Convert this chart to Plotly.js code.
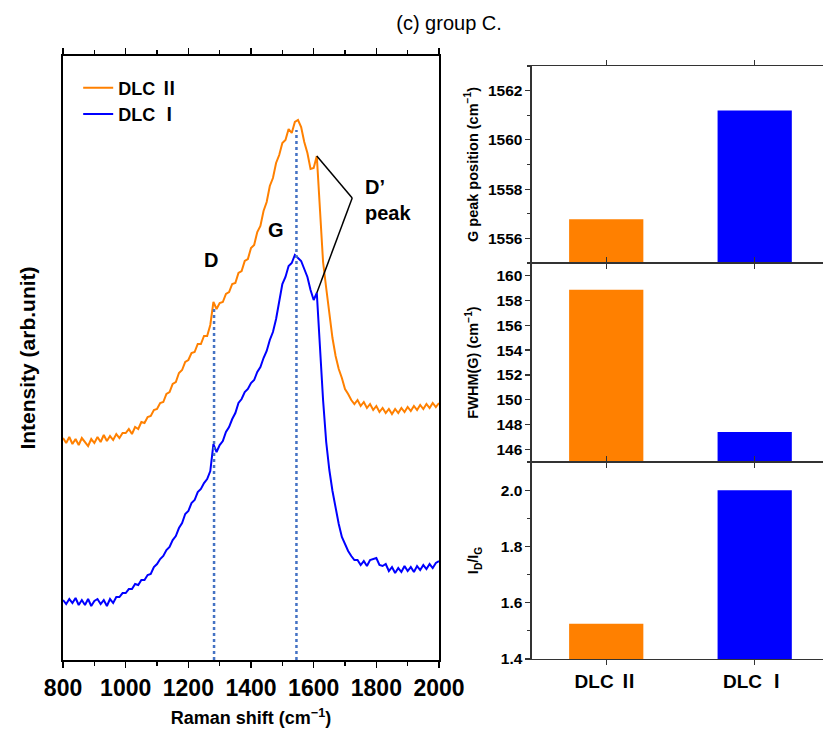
<!DOCTYPE html>
<html><head><meta charset="utf-8">
<script src="https://cdn.plot.ly/plotly-3.0.1.min.js"></script>
<style>html,body{margin:0;padding:0;background:#fff}#chart{width:823px;height:731px}</style>
</head><body><div id="chart"></div>
<script>
// Raman shift (cm^-1)
const ramanShift = [800,810,820,830,840,850,860,870,880,890,900,910,920,930,940,950,960,970,980,990,
1000,1010,1020,1030,1040,1050,1060,1070,1080,1090,1100,1110,1120,1130,1140,1150,1160,1170,1180,1190,
1200,1210,1220,1230,1240,1250,1260,1270,1280,1290,1300,1310,1320,1330,1340,1350,1360,1370,1380,1390,
1400,1410,1420,1430,1440,1450,1460,1470,1480,1490,1500,1510,1520,1530,1540,1550,1560,1570,1580,1590,
1600,1610,1620,1630,1640,1650,1660,1670,1680,1690,1700,1710,1720,1730,1740,1750,1760,1770,1780,1790,
1800,1810,1820,1830,1840,1850,1860,1870,1880,1890,1900,1910,1920,1930,1940,1950,1960,1970,1980,1990,2000];

// Intensity (arb. unit), DLC II (orange, offset upward)
const intensityDLC2 = [222,217,223,216,221,215,222,218,214,221,217,223,218,225,219,224,220,226,222,227,
227,231,226,233,231,238,237,243,244,250,251,257,258,266,268,276,278,287,290,298,
300,307,308,316,316,324,324,335,358,351,357,358,366,368,376,377,387,389,399,401,
412,415,428,434,449,458,474,482,497,505,517,520,531,527,538,540,533,518,507,491,
492,504,445,398,372,345,322,304,291,282,271,266,260,256,260,254,258,252,256,250,
254,248,252,247,251,246,251,247,252,248,253,249,254,250,255,251,256,252,257,253,257];

// Intensity (arb. unit), DLC I (blue)
const intensityDLC1 = [60,56,61,57,62,55,60,55,61,54,59,61,56,60,54,61,57,63,63,67,
67,71,71,76,75,80,80,85,86,93,96,101,104,110,113,120,124,132,137,146,
149,157,160,168,171,177,181,189,216,208,215,219,228,233,241,247,257,261,268,271,
277,280,288,293,302,309,320,328,341,358,376,383,394,397,405,402,399,391,383,370,
360,367,310,260,218,190,169,151,136,123,115,109,104,100,100,95,99,94,100,101,
102,95,94,96,89,93,87,92,88,94,89,93,88,94,90,95,91,96,92,97,99];

// Bar panels
const barCategories = ['DLC Ⅱ', 'DLC Ⅰ'];
const gPeakPosition = [1556.78, 1561.19];
const fwhmG = [158.84, 147.42];
const idIgRatio = [1.525, 2.0];
const barColors = ['#FF8000', '#0000FF'];

// Peak markers
const dBandPos = 1282;
const gBandPos = 1545;
const dPrimePos = 1610;
const dPrimeLabelPos = {x: 1723, y: 462};

const FONT = 'Liberation Sans, Arial, Helvetica, Noto Sans CJK SC, sans-serif';

function valueAt(xs, ys, x) {
  let best = 0;
  for (let i = 0; i < xs.length; i++) if (Math.abs(xs[i] - x) < Math.abs(xs[best] - x)) best = i;
  return ys[best];
}

const traces = [
  {x: ramanShift, y: intensityDLC2, type: 'scatter', mode: 'lines', name: 'DLC Ⅱ',
   line: {color: '#FF8000', width: 2}, xaxis: 'x', yaxis: 'y'},
  {x: ramanShift, y: intensityDLC1, type: 'scatter', mode: 'lines', name: 'DLC Ⅰ',
   line: {color: '#0000FF', width: 2}, xaxis: 'x', yaxis: 'y'},
  {x: barCategories, y: gPeakPosition, type: 'bar', width: 0.5, marker: {color: barColors},
   showlegend: false, xaxis: 'x2', yaxis: 'y2'},
  {x: barCategories, y: fwhmG, type: 'bar', width: 0.5, marker: {color: barColors},
   showlegend: false, xaxis: 'x3', yaxis: 'y3'},
  {x: barCategories, y: idIgRatio, type: 'bar', width: 0.5, marker: {color: barColors},
   showlegend: false, xaxis: 'x4', yaxis: 'y4'}
];

const boldTick = (size) => ({family: FONT, size: size, color: '#000', weight: 700});

const barX = (anchor, labels) => ({
  domain: [0.6464, 1], anchor: anchor, range: [-0.5, 1.46], type: 'category',
  showticklabels: labels, ticks: 'outside', ticklen: 5, tickwidth: 1.2, tickcolor: '#333',
  showline: true, linecolor: '#333', linewidth: 1.3, mirror: 'ticks',
  showgrid: false, zeroline: false, tickfont: boldTick(19)
});
const barY = (anchor, dom, range, dtick, minor, title, standoff, fmt) => ({
  domain: dom, anchor: anchor, range: range, dtick: dtick, tickformat: fmt || '',
  ticks: 'outside', ticklen: 5, tickwidth: 1.2, tickcolor: '#333',
  minor: minor ? {dtick: minor, ticks: 'outside', ticklen: 3, tickcolor: '#333'} : undefined,
  showline: true, linecolor: '#333', linewidth: 1.5, mirror: false,
  showgrid: false, zeroline: false, tickfont: boldTick(15.5),
  title: {text: title, font: {family: FONT, size: 14.5, color: '#000', weight: 700}, standoff: standoff}
});

const layout = {
  width: 823, height: 731,
  margin: {l: 0, r: 0, t: 0, b: 0},
  paper_bgcolor: '#fff', plot_bgcolor: 'rgba(0,0,0,0)',
  font: {family: FONT, color: '#000'},
  title: {text: '(c) group C.', x: 0.5456, xanchor: 'center', y: 0.968, yanchor: 'middle',
          font: {family: 'Liberation Sans, Arial, sans-serif', size: 20, color: '#000'}},
  showlegend: true,
  legend: {x: 0.095, y: 0.905, xanchor: 'left', yanchor: 'top', bgcolor: 'rgba(0,0,0,0)',
           font: {family: FONT, size: 18, color: '#000', weight: 700}},
  xaxis: {
    domain: [0.0766, 0.5334], anchor: 'y', range: [800, 2000], dtick: 200,
    ticks: 'outside', ticklen: 6, tickwidth: 1.5, tickcolor: '#000',
    minor: {dtick: 100, ticks: 'outside', ticklen: 4, tickcolor: '#000'},
    showline: true, linecolor: '#000', linewidth: 2, mirror: 'ticks',
    showgrid: false, zeroline: false, tickfont: boldTick(23),
    title: {text: 'Raman shift (cm<sup>−1</sup>)', font: {family: FONT, size: 18, color: '#000', weight: 700}, standoff: 12}
  },
  yaxis: {
    domain: [0.0971, 0.9234], anchor: 'x', range: [0, 604],
    showticklabels: false, ticks: '', showline: true, linecolor: '#000', linewidth: 2, mirror: true,
    showgrid: false, zeroline: false,
    title: {text: 'Intensity (arb.unit)', font: {family: FONT, size: 21, color: '#000', weight: 700}, standoff: 20}
  },
  xaxis2: barX('y2', false),
  xaxis3: barX('y3', false),
  xaxis4: barX('y4', true),
  yaxis2: barY('x2', [0.6402, 0.9097], [1555, 1563], 2, 1, 'G peak position (cm<sup>−1</sup>)', 6),
  yaxis3: barY('x3', [0.3680, 0.6402], [145, 161], 2, null, 'FWHM(G) (cm<sup>−1</sup>)', 14),
  yaxis4: barY('x4', [0.0985, 0.3680], [1.4, 2.1], 0.2, 0.1, 'I<sub>D</sub>/I<sub>G</sub>', 18, '.1f'),
  shapes: [
    {type: 'line', xref: 'x', yref: 'y', x0: dBandPos, x1: dBandPos, y0: 0,
     y1: valueAt(ramanShift, intensityDLC2, dBandPos) - 4,
     line: {color: '#4472C4', width: 2.5, dash: 'dot'}},
    {type: 'line', xref: 'x', yref: 'y', x0: gBandPos, x1: gBandPos, y0: 0,
     y1: valueAt(ramanShift, intensityDLC2, gBandPos) - 8,
     line: {color: '#4472C4', width: 2.5, dash: 'dot'}},
    {type: 'line', xref: 'x', yref: 'y', x0: dPrimePos, x1: dPrimeLabelPos.x,
     y0: valueAt(ramanShift, intensityDLC2, dPrimePos), y1: dPrimeLabelPos.y,
     line: {color: '#000', width: 1.5}},
    {type: 'line', xref: 'x', yref: 'y', x0: dPrimePos, x1: dPrimeLabelPos.x,
     y0: valueAt(ramanShift, intensityDLC1, dPrimePos), y1: dPrimeLabelPos.y,
     line: {color: '#000', width: 1.5}}
  ],
  annotations: [
    {xref: 'x', yref: 'y', x: 1272, y: 400, text: 'D', showarrow: false,
     font: {family: FONT, size: 20, color: '#000', weight: 700}},
    {xref: 'x', yref: 'y', x: 1479, y: 430, text: 'G', showarrow: false,
     font: {family: FONT, size: 20, color: '#000', weight: 700}},
    {xref: 'x', yref: 'y', x: 1756, y: 460, text: 'D’<br>peak', showarrow: false,
     xanchor: 'left', align: 'left',
     font: {family: FONT, size: 20, color: '#000', weight: 700}}
  ]
};

Plotly.newPlot('chart', traces, layout, {displayModeBar: false, staticPlot: true});
</script>
</body></html>
